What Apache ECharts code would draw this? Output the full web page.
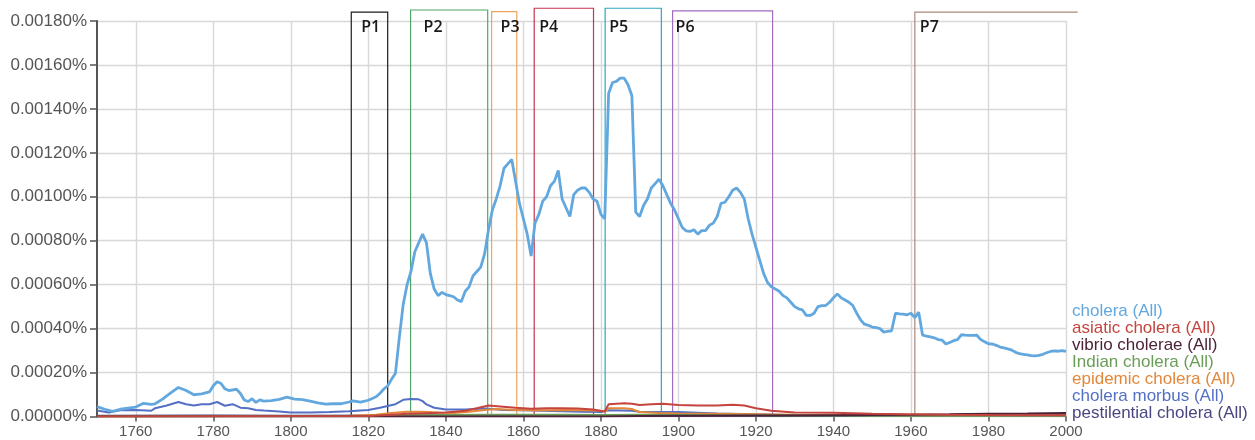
<!DOCTYPE html>
<html>
<head>
<meta charset="utf-8">
<script src="https://cdn.jsdelivr.net/npm/echarts@6/dist/echarts.min.js"></script>
<style>
html,body{margin:0;padding:0;background:#fff;}
#chart{width:1255px;height:440px;}
</style>
</head>
<body>
<div id="chart"></div>
<script>
// ---- data (values are percentages, e.g. 0.0010 = 0.00100%) ----
const seriesNames = ['cholera (All)', 'asiatic cholera (All)', 'vibrio cholerae (All)', 'Indian cholera (All)', 'epidemic cholera (All)', 'cholera morbus (All)', 'pestilential cholera (All)'];

const cholera = [[1750,0.000045],[1752,0.000033],[1754,0.000023],[1756,0.000033],[1758,0.000038],[1760,0.000043],[1762,0.000060],[1764,0.000055],[1765,0.000058],[1767,0.000080],[1768,0.000094],[1770,0.000120],[1771,0.000132],[1773,0.000118],[1775,0.000099],[1777,0.000103],[1779,0.000112],[1780,0.000140],[1781,0.000158],[1782,0.000150],[1783,0.000126],[1784,0.000118],[1786,0.000124],[1787,0.000105],[1788,0.000075],[1789,0.000068],[1790,0.000081],[1791,0.000064],[1792,0.000076],[1793,0.000070],[1795,0.000072],[1797,0.000078],[1799,0.000088],[1801,0.000079],[1803,0.000077],[1805,0.000070],[1807,0.000062],[1809,0.000056],[1811,0.000058],[1813,0.000058],[1815,0.000066],[1816,0.000071],[1818,0.000065],[1820,0.000074],[1822,0.000090],[1823,0.000105],[1824,0.000125],[1825,0.000140],[1826,0.000170],[1827,0.000197],[1828,0.00036],[1829,0.00051],[1830,0.00060],[1831,0.00066],[1832,0.00075],[1833,0.00079],[1834,0.00083],[1835,0.00079],[1836,0.00065],[1837,0.00058],[1838,0.00055],[1839,0.000565],[1840,0.000555],[1841,0.00055],[1842,0.000545],[1843,0.00053],[1844,0.000523],[1845,0.00057],[1846,0.00059],[1847,0.00064],[1848,0.00066],[1849,0.00068],[1850,0.00074],[1851,0.00085],[1852,0.00094],[1853,0.00099],[1854,0.00105],[1855,0.00113],[1856,0.00115],[1857,0.00117],[1858,0.00107],[1859,0.00097],[1860,0.00090],[1861,0.00083],[1862,0.00073],[1863,0.00088],[1864,0.00092],[1865,0.00098],[1866,0.00100],[1867,0.00105],[1868,0.00107],[1869,0.00112],[1870,0.00099],[1871,0.00095],[1872,0.00091],[1873,0.00101],[1874,0.00103],[1875,0.00104],[1876,0.00104],[1877,0.00102],[1878,0.00099],[1879,0.00098],[1880,0.00092],[1881,0.00090],[1882,0.00147],[1883,0.00152],[1884,0.001525],[1885,0.00154],[1886,0.00154],[1887,0.00151],[1888,0.00146],[1889,0.00093],[1890,0.00091],[1891,0.00096],[1892,0.00099],[1893,0.00104],[1894,0.00106],[1895,0.00108],[1896,0.00105],[1897,0.00101],[1898,0.00097],[1899,0.00094],[1900,0.00090],[1901,0.00086],[1902,0.000845],[1903,0.000842],[1904,0.00085],[1905,0.00083],[1906,0.000846],[1907,0.000846],[1908,0.00087],[1909,0.00088],[1910,0.00091],[1911,0.00097],[1912,0.000975],[1913,0.00100],[1914,0.00103],[1915,0.00104],[1916,0.00102],[1917,0.00099],[1918,0.00090],[1919,0.00083],[1920,0.00077],[1921,0.00071],[1922,0.00065],[1923,0.00061],[1924,0.00059],[1925,0.00058],[1926,0.00057],[1927,0.00055],[1928,0.00054],[1929,0.00052],[1930,0.00050],[1931,0.00049],[1932,0.000485],[1933,0.00046],[1934,0.00046],[1935,0.00047],[1936,0.00050],[1937,0.000505],[1938,0.000505],[1939,0.00052],[1940,0.00054],[1941,0.000557],[1942,0.00054],[1943,0.00053],[1944,0.00052],[1945,0.000505],[1946,0.00047],[1947,0.00044],[1948,0.00042],[1949,0.000415],[1950,0.000407],[1951,0.000405],[1952,0.00040],[1953,0.000384],[1954,0.000388],[1955,0.00039],[1956,0.00047],[1957,0.000467],[1958,0.000466],[1959,0.000463],[1960,0.00047],[1961,0.00045],[1962,0.000475],[1963,0.00037],[1964,0.000366],[1965,0.000362],[1966,0.000358],[1967,0.00035],[1968,0.000348],[1969,0.00033],[1970,0.000337],[1971,0.000345],[1972,0.00035],[1973,0.000372],[1974,0.00037],[1975,0.000369],[1976,0.000369],[1977,0.00037],[1978,0.00035],[1979,0.00034],[1980,0.000331],[1981,0.00033],[1982,0.000324],[1983,0.000316],[1984,0.000312],[1985,0.000308],[1986,0.000302],[1987,0.000292],[1988,0.000286],[1989,0.000283],[1990,0.00028],[1991,0.000277],[1992,0.000276],[1993,0.000278],[1994,0.000283],[1995,0.00029],[1996,0.000296],[1997,0.000299],[1998,0.000297],[1999,0.00030],[2000,0.000296]];

const asiaticCholera = [[1750,0],[1820,0.000002],[1826,0.000008],[1830,0.000012],[1835,0.000015],[1840,0.000018],[1845,0.000026],[1848,0.000038],[1851,0.00005],[1854,0.000046],[1858,0.00004],[1862,0.000035],[1866,0.000038],[1870,0.000038],[1874,0.000036],[1878,0.000032],[1880,0.000025],[1881,0.000024],[1882,0.000056],[1886,0.00006],[1888,0.000058],[1890,0.000052],[1893,0.000056],[1896,0.000058],[1900,0.000052],[1905,0.00005],[1910,0.00005],[1914,0.000054],[1917,0.00005],[1920,0.000038],[1924,0.000026],[1930,0.000018],[1940,0.000017],[1950,0.000012],[1960,0.00001],[1970,0.000008],[1980,0.000007],[2000,0.000006]];

const vibrioCholerae = [[1750,0],[1880,0],[1890,0.000002],[1900,0.000003],[1920,0.000004],[1940,0.000006],[1960,0.000008],[1970,0.00001],[1980,0.000013],[1990,0.000014],[2000,0.000016]];

const indianCholera = [[1750,0],[1820,0.000002],[1830,0.000006],[1850,0.000008],[1870,0.000008],[1880,0.000007],[1890,0.000008],[1910,0.000006],[1930,0.000004],[1960,0.000003],[2000,0.000003]];

const epidemicCholera = [[1750,0],[1815,0.000003],[1822,0.000008],[1826,0.000016],[1830,0.000022],[1834,0.000022],[1838,0.000018],[1842,0.000016],[1846,0.000022],[1850,0.00003],[1853,0.000034],[1858,0.00003],[1862,0.000028],[1866,0.000028],[1870,0.00003],[1875,0.000029],[1880,0.000026],[1881,0.000022],[1882,0.000038],[1886,0.000038],[1888,0.000034],[1890,0.00002],[1895,0.000016],[1900,0.000014],[1910,0.000012],[1920,0.00001],[1930,0.000008],[1950,0.000006],[1970,0.000005],[2000,0.000004]];

const choleraMorbus = [[1750,0.000027],[1753,0.000018],[1756,0.000028],[1760,0.00003],[1764,0.000026],[1765,0.000038],[1768,0.00005],[1771,0.000066],[1773,0.000056],[1775,0.00005],[1777,0.000056],[1779,0.000056],[1781,0.000066],[1783,0.000049],[1785,0.000056],[1787,0.00004],[1789,0.000038],[1791,0.00003],[1793,0.000027],[1797,0.000023],[1800,0.000018],[1805,0.000018],[1810,0.00002],[1815,0.000024],[1820,0.00003],[1823,0.00004],[1827,0.000056],[1829,0.000076],[1831,0.00008],[1833,0.000078],[1834,0.00007],[1835,0.000055],[1837,0.00004],[1840,0.000032],[1845,0.000032],[1850,0.000036],[1855,0.00003],[1860,0.000028],[1865,0.000026],[1870,0.000024],[1875,0.000022],[1880,0.00002],[1882,0.000028],[1888,0.000026],[1890,0.000022],[1900,0.00002],[1910,0.000014],[1920,0.00001],[1930,0.000006],[1950,0.000004],[1970,0.000003],[2000,0.000002]];

const pestilentialCholera = [[1750,0.000003],[1780,0.000004],[1800,0.000003],[1830,0.000004],[1850,0.000004],[1880,0.000003],[1900,0.000003],[1950,0.000002],[1965,0.000005],[1975,0.00001],[1985,0.000009],[2000,0.000008]];

const xTickYears = [1760, 1780, 1800, 1820, 1840, 1860, 1880, 1900, 1920, 1940, 1960, 1980, 2000];

// period boxes
const periodLabels = ['P1', 'P2', 'P3', 'P4', 'P5', 'P6', 'P7'];
const periodStarts = [1815.6, 1830.9, 1851.8, 1862.8, 1881.1, 1898.5, 1961.0];
const periodEnds   = [1825.0, 1850.8, 1858.3, 1878.1, 1895.6, 1924.3, 2003.0];
const periodTops   = [0.00184, 0.00185, 0.001843, 0.001858, 0.001858, 0.001846, 0.00184];
const periodClosed = [true, true, true, true, true, true, false];

// ---- styles ----
const lineColors = ['#62a8df', '#c5443d', '#4e2238', '#6a9e58', '#e3873a', '#5470c4', '#48467f'];
const periodColors = ['#1c1c1c', '#4fa56a', '#eea45c', '#c8354e', '#2ea6c2', '#a46bbf', '#a88b7a'];
const labelInsetPx = [10, 13, 9, 5, 4, 3, 5];

const chart = echarts.init(document.getElementById('chart'), null, {renderer: 'canvas'});

const lineData = [cholera, asiaticCholera, vibrioCholerae, indianCholera, epidemicCholera, choleraMorbus, pestilentialCholera];
const drawOrder = [6, 5, 4, 3, 2, 1, 0];

const lineSeries = drawOrder.map(function (i) {
  return {
    name: seriesNames[i],
    type: 'line',
    data: lineData[i],
    showSymbol: false,
    symbol: 'none',
    z: 3,
    lineStyle: {color: lineColors[i], width: i === 0 ? 2.8 : 2},
    itemStyle: {color: lineColors[i]},
    emphasis: {disabled: true}
  };
});

const periodData = periodStarts.map(function (s, i) {
  return [s, periodEnds[i], periodTops[i], i];
});

const periodSeries = {
  type: 'custom',
  name: 'periods',
  clip: false,
  z: 2,
  silent: true,
  encode: {x: [0, 1], y: 2},
  data: periodData,
  renderItem: function (params, api) {
    const i = api.value(3);
    const p0 = api.coord([api.value(0), 0]);
    const p1 = api.coord([api.value(1), api.value(2)]);
    const gTop = api.coord([api.value(0), 0.0018]);
    const color = periodColors[i];
    const children = [];
    if (periodClosed[i]) {
      children.push({
        type: 'rect',
        shape: {x: p0[0], y: p1[1], width: p1[0] - p0[0], height: p0[1] - p1[1]},
        style: {fill: 'none', stroke: color, lineWidth: 1.2}
      });
    } else {
      children.push({
        type: 'polyline',
        shape: {points: [[p0[0], p0[1]], [p0[0], p1[1]], [p1[0], p1[1]]]},
        style: {fill: 'none', stroke: color, lineWidth: 1.2}
      });
    }
    children.push({
      type: 'text',
      x: p0[0] + labelInsetPx[i],
      y: gTop[1] + 6.5,
      style: {
        text: periodLabels[i],
        fontFamily: '"Open Sans", "Noto Sans", sans-serif',
        fontSize: 16,
        fontWeight: 600,
        fill: '#1a1a1a',
        verticalAlign: 'middle',
        align: 'left'
      }
    });
    return {type: 'group', children: children};
  }
};

const option = {
  animation: false,
  backgroundColor: '#ffffff',
  textStyle: {fontFamily: '"Liberation Sans", Arial, sans-serif'},
  grid: {left: 97, right: 189, top: 21, bottom: 23.5, containLabel: false},
  legend: {
    orient: 'vertical',
    left: 1062,
    top: 298,
    icon: 'none',
    itemWidth: 0,
    itemHeight: 10,
    itemGap: 0,
    selectedMode: false,
    data: seriesNames.map(function (n, i) {
      return {name: n, textStyle: {color: lineColors[i]}};
    }),
    textStyle: {fontSize: 17, lineHeight: 16.8, fontFamily: '"Liberation Sans", Arial, sans-serif', padding: 0}
  },
  xAxis: {
    type: 'value',
    min: 1750,
    max: 2000,
    axisLine: {show: true, onZero: false, lineStyle: {color: '#555', width: 1}},
    axisTick: {show: true, length: 5, customValues: xTickYears, lineStyle: {color: '#555', width: 1.5}},
    axisLabel: {
      customValues: xTickYears,
      fontSize: 15,
      color: '#555',
      margin: 8,
      fontFamily: '"Liberation Sans", Arial, sans-serif',
      formatter: function (v) { return String(v); }
    },
    splitLine: {show: true, lineStyle: {color: '#d8d8d8', width: 1.4}}
  },
  yAxis: {
    type: 'value',
    min: 0,
    max: 0.0018,
    interval: 0.0002,
    axisLine: {show: true, lineStyle: {color: '#555', width: 2}},
    axisTick: {show: true, length: 7, lineStyle: {color: '#555', width: 1.5}},
    axisLabel: {
      fontSize: 17,
      color: '#555',
      margin: 10,
      fontFamily: '"Liberation Sans", Arial, sans-serif',
      formatter: function (v) { return v.toFixed(5) + '%'; }
    },
    splitLine: {show: true, lineStyle: {color: '#d8d8d8', width: 1.4}}
  },
  series: [periodSeries].concat(lineSeries)
};

chart.setOption(option);
</script>
</body>
</html>
